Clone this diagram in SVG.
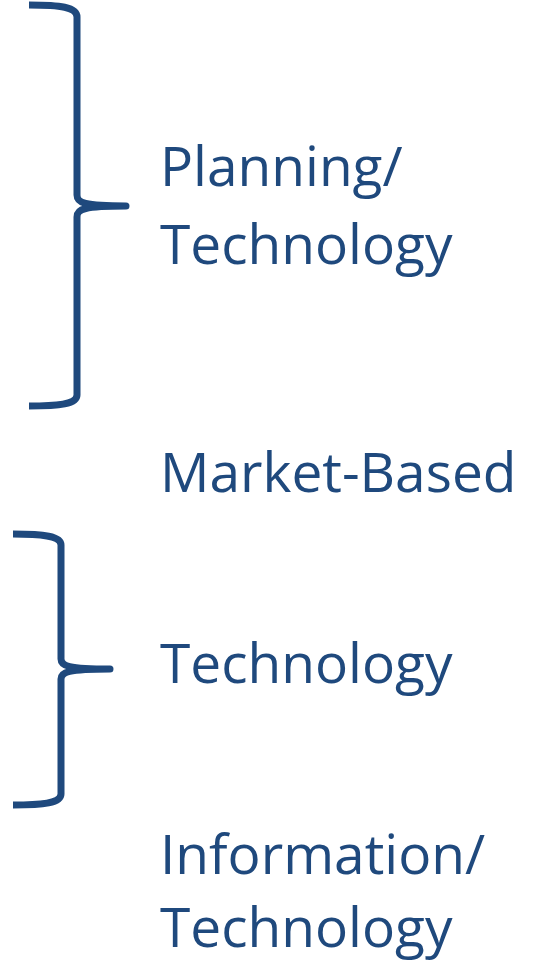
<svg xmlns="http://www.w3.org/2000/svg" width="534" height="964" viewBox="0 0 534 964">
<style>
.brace{fill:none;stroke:#1F497D;stroke-width:7;stroke-linejoin:round}
.lbl{font-family:"Open Sans","Noto Sans","Liberation Sans",sans-serif;font-size:55px;fill:#1F497D}
</style>
<rect width="534" height="964" fill="#ffffff"/>
<g id="connectors">
<path id="brace1" class="brace" d="M29 5 C60 5 77 7 77 17 L77 195 C77 203 84 206 126 206 C84 206 77 209 77 217 L77 395 C77 404 60 406 29 406"/>
<path id="brace2" class="brace" d="M13 534 C44 534 61 536 61 545 L61 659 C61 666 68 669 110 669 C68 669 61 672 61 679 L61 794 C61 803 44 805 13 805"/>
</g>
<g id="node-planning"><text class="lbl" x="160" y="186">Planning/</text><text class="lbl" x="160" y="264">Technology</text></g>
<g id="node-market"><text class="lbl" x="160" y="492">Market-Based</text></g>
<g id="node-technology"><text class="lbl" x="160" y="683">Technology</text></g>
<g id="node-information"><text class="lbl" x="160" y="874">Information/</text><text class="lbl" x="160" y="947">Technology</text></g>
</svg>
